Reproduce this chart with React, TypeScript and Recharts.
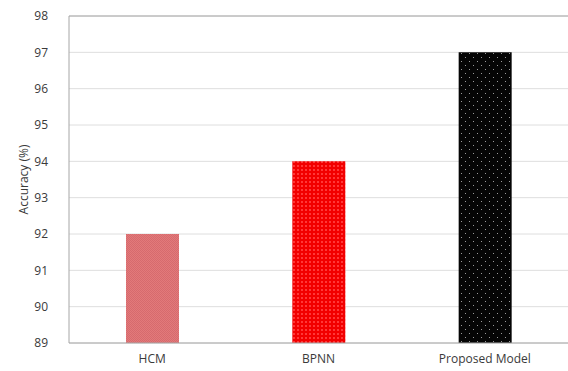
import { BarChart, Bar, XAxis, YAxis, CartesianGrid, Cell, ReferenceLine } from "recharts";

const models = ["HCM", "BPNN", "Proposed Model"];
const accuracy = [92, 94, 97];
const yTicks = [89, 90, 91, 92, 93, 94, 95, 96, 97, 98];

const fills = ["url(#hcmFill)", "url(#bpnnFill)", "url(#propFill)"];

const data = models.map((name, i) => ({ name, value: accuracy[i] }));

const font = "'Open Sans', 'Liberation Sans', sans-serif";

export default function App() {
  return (
    <div style={{ position: "absolute", left: 0, top: 0, background: "#fff", fontFamily: font }}>
      <BarChart width={568} height={371} data={data} margin={{ top: 16, right: 0, left: 0, bottom: 0 }}>
        <defs>
          <pattern id="hcmFill" width="2" height="2" patternUnits="userSpaceOnUse">
            <rect width="2" height="2" fill="#e27a7a" />
            <rect width="1" height="1" fill="#d66a6e" />
            <rect x="1" y="1" width="1" height="1" fill="#d66a6e" />
          </pattern>
          <pattern id="bpnnFill" width="4" height="4" patternUnits="userSpaceOnUse">
            <rect width="4" height="4" fill="#f20000" />
            <rect x="1" y="1" width="2" height="2" fill="#ff3838" />
          </pattern>
          <pattern id="propFill" width="8" height="8" patternUnits="userSpaceOnUse">
            <rect width="8" height="8" fill="#050505" />
            <rect x="1" y="1" width="1" height="1" fill="#9a9a9a" />
            <rect x="5" y="5" width="1" height="1" fill="#9a9a9a" />
          </pattern>
        </defs>
        <CartesianGrid stroke="#dedede" vertical={false} />
        <ReferenceLine y={98} stroke="#a6a6a6" />
        <XAxis
          dataKey="name"
          height={28}
          tickLine={false}
          axisLine={{ stroke: "#a6a6a6" }}
          tick={{ fill: "#3a3a3a", fontSize: 12, fontFamily: font }}
          tickMargin={5}
        />
        <YAxis
          domain={[89, 98]}
          ticks={yTicks}
          width={69}
          tickLine={false}
          axisLine={{ stroke: "#a6a6a6" }}
          tick={{ fill: "#3a3a3a", fontSize: 12, fontFamily: font }}
          tickMargin={15}
          label={{
            value: "Accuracy (%)",
            angle: -90,
            position: "insideLeft",
            offset: 24,
            style: { fill: "#3a3a3a", fontSize: 12, fontFamily: font, textAnchor: "middle" },
          }}
        />
        <Bar dataKey="value" barSize={53} isAnimationActive={false}>
          {data.map((d, i) => (
            <Cell key={d.name} fill={fills[i]} />
          ))}
        </Bar>
      </BarChart>
    </div>
  );
}
